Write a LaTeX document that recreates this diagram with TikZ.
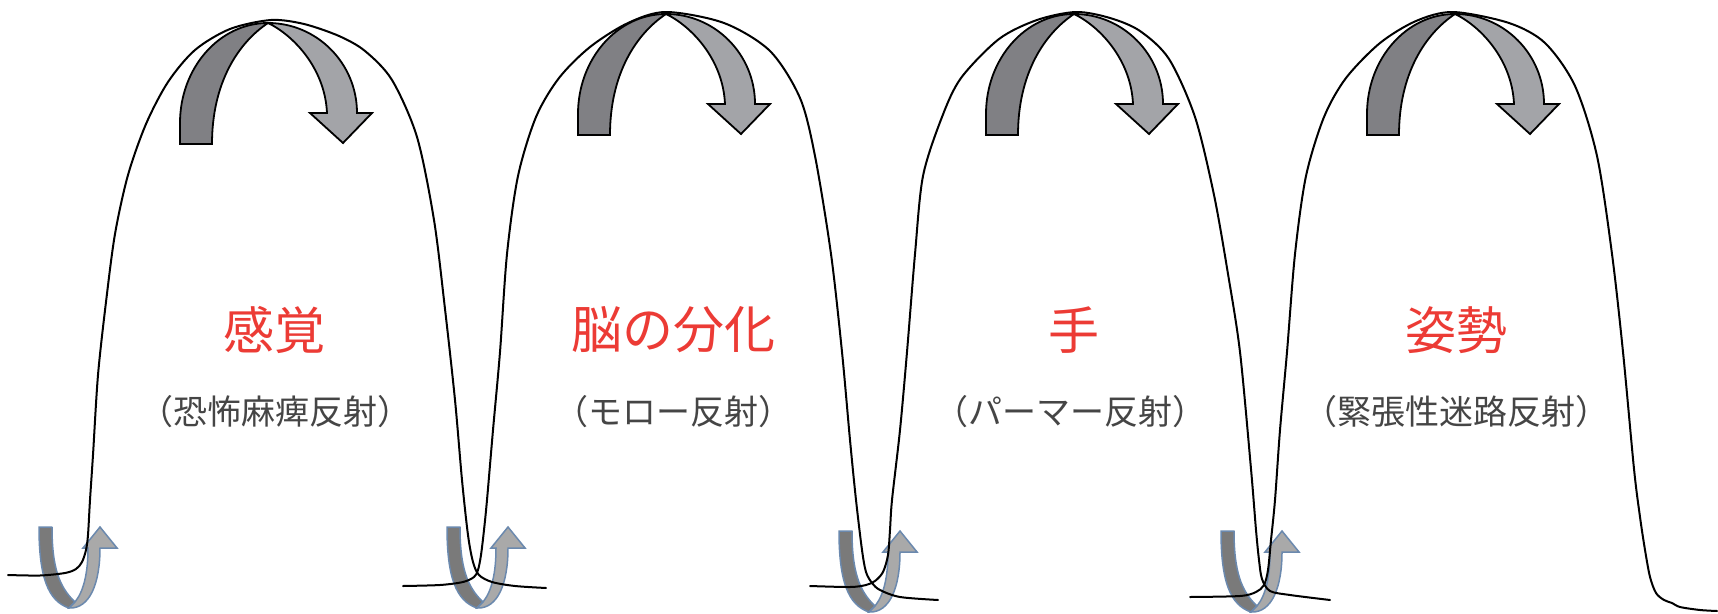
\documentclass[tikz,border=0pt]{standalone}
\usepackage{fontspec}
\newfontfamily\jp{Noto Sans CJK JP}
\definecolor{armdark}{HTML}{808084}
\definecolor{armlight}{HTML}{A3A4A8}
\definecolor{udarkc}{HTML}{7A7A7A}
\definecolor{ulightc}{HTML}{A9A9A9}
\definecolor{uedge}{HTML}{6B89AE}
\definecolor{redtxt}{HTML}{EC3B35}
\definecolor{graytxt}{HTML}{454545}
\tikzset{
 hump/.style={draw=black,line width=2pt,line join=round,line cap=round},
 armback/.style={fill=armdark,draw=black,line width=1.8pt,line join=miter},
 armfront/.style={fill=armlight,draw=black,line width=1.8pt,line join=miter},
 uback/.style={fill=udarkc,draw=uedge,line width=1.5pt,line join=round},
 ufront/.style={fill=ulightc,draw=uedge,line width=1.5pt,line join=miter},
 title/.style={text=redtxt,font=\jp\fontsize{51}{60}\selectfont,inner sep=0pt},
 sub/.style={text=graytxt,font=\jp\fontsize{34}{40}\selectfont,inner sep=0pt},
 bigarrow/.pic={
  \path[armback] (-88,121) -- (-88,100) .. controls (-88,44.8) and (-48.6,0) .. (0,0) .. controls (-30,20) and (-56,60) .. (-56,121) -- cycle;
  \path[armfront] (0,0) .. controls (48.6,0) and (89,40) .. (89,90) -- (104,90) -- (75,120) -- (42,90) -- (59,90) .. controls (57,45) and (25,12) .. (0,0) -- cycle;
 },
 uarrow/.pic={
  \path[uback] (0,0) -- (13,0) .. controls (13,40) and (20,60) .. (36,75) -- (30,81) .. controls (9,74) and (0,50) .. (0,0) -- cycle;
  \path[ufront] (30,81) -- (36,75) .. controls (45,64) and (49,45) .. (49,21) -- (44,21) -- (61,0) -- (78,21) -- (61,21) .. controls (61,56) and (51,82) .. (30,81) -- cycle;
 }
}
\begin{document}
\begin{tikzpicture}[x=1pt,y=-1pt]
\fill[white] (0,0) rectangle (1718,613);
\useasboundingbox (0,0) rectangle (1718,613);

% small U arrows (under the lines)
\begin{scope}[shift={(39,527)}] \pic {uarrow}; \end{scope}
\begin{scope}[shift={(447,527)}] \pic {uarrow}; \end{scope}
\begin{scope}[shift={(839,531)},yscale=0.95] \pic {uarrow}; \end{scope}
\begin{scope}[shift={(1221,531)},xscale=1.1,yscale=0.95] \pic {uarrow}; \end{scope}

% humps
\draw[hump] plot[smooth,tension=0.5] coordinates {(8,575) (40,575.5) (65,573) (76,569) (82,562) (86,550) (88,535) (90,500) (93,455) (98,375) (106,302) (115,234) (128,175) (146,124) (168,82) (195,50) (230,29) (271,20) (304,24) (339,36) (365,51) (392,80) (417,137) (434,220) (445,309) (455,400) (462,480) (468,535) (473,562) (479,575) (492,582) (515,586) (546,588)};
\draw[hump] plot[smooth,tension=0.5] coordinates {(403,586) (440,585) (463,582) (474,577) (478,570) (481,555) (484,530) (487,500) (493,430) (500,352) (507,254) (518,176) (536,117) (559,78) (590,47) (628,23) (666,12) (724,23) (770,51) (800,98) (815,156) (831,254) (842,352) (850,440) (856,500) (862,550) (866,572) (872,583) (880,590) (900,597) (938,600)};
\draw[hump] plot[smooth,tension=0.5] coordinates {(810,586) (850,587) (866,585) (875,581) (883,572) (888,555) (890,530) (892,500) (900,430) (907,352) (915,254) (923,176) (942,117) (961,78) (999,39) (1037,20) (1076,12) (1110,18) (1140,31) (1169,59) (1195,117) (1214,195) (1228,274) (1240,352) (1251,469) (1256,530) (1259,560) (1262,579) (1270,591) (1290,595) (1330,600)};
\draw[hump] plot[smooth,tension=0.5] coordinates {(1190,597) (1240,596) (1256,592) (1264,585) (1268,570) (1271,540) (1275,500) (1280,430) (1287,352) (1295,254) (1306,176) (1324,117) (1346,78) (1380,43) (1416,21) (1453,12) (1509,23) (1545,43) (1575,86) (1597,156) (1612,254) (1623,352) (1634,469) (1640,517) (1645,550) (1650,577) (1656,593) (1664,600) (1672,603) (1680,607) (1700,610) (1717,611)};

% big arrows (over the lines)
\begin{scope}[shift={(268,23)}] \pic {bigarrow}; \end{scope}
\begin{scope}[shift={(666,14)}] \pic {bigarrow}; \end{scope}
\begin{scope}[shift={(1074,14)}] \pic {bigarrow}; \end{scope}
\begin{scope}[shift={(1455,14)}] \pic {bigarrow}; \end{scope}

% labels
\node[title] (t1) at (274,330) {感覚};
\node[sub] (s1) at (275,412) {（恐怖麻痺反射）};
\node[title] (t2) at (673,330) {脳の分化};
\node[sub] (s2) at (673,412) {（モロー反射）};
\node[title] (t3) at (1074,330) {手};
\node[sub] (s3) at (1070,412) {（パーマー反射）};
\node[title] (t4) at (1456,330) {姿勢};
\node[sub] (s4) at (1456,412) {（緊張性迷路反射）};
\end{tikzpicture}
\end{document}
